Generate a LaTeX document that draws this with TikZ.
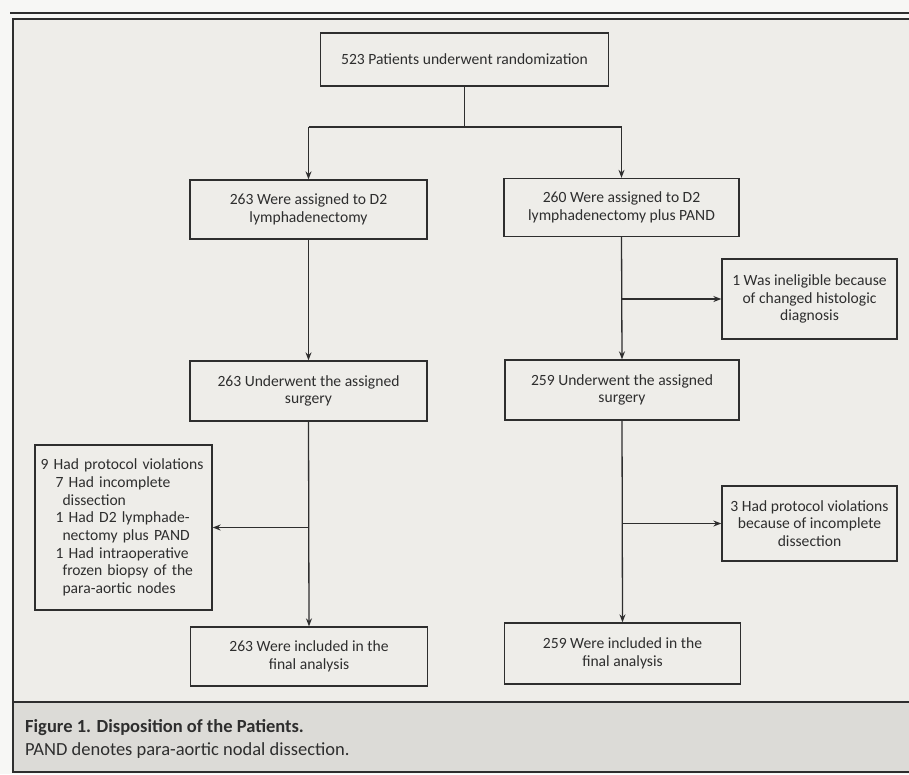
\documentclass[tikz,border=0pt]{standalone}
\usepackage{fontspec}
\setmainfont{Carlito}
\usetikzlibrary{arrows.meta}
\definecolor{paper}{HTML}{EEEDE9}
\definecolor{capbg}{HTML}{DCDBD7}
\definecolor{ink}{HTML}{2E2E2E}
\tikzset{
  box/.style={draw=ink, line width=1.3pt, fill=paper, align=center, inner sep=4pt,
    font=\fontsize{15.6}{17.7}\selectfont, text=ink},
  conn/.style={draw=ink, line width=1.3pt},
  arr/.style={conn, -{Stealth[length=8pt,width=6pt]}},
}
\begin{document}
\begin{tikzpicture}[x=1pt,y=-1pt]
\useasboundingbox (0,0) rectangle (909,774);
\fill[white!55!paper] (0,0) rectangle (909,774);
\fill[paper] (13,19) rectangle (909,702);
\fill[capbg] (13,702) rectangle (909,772);
\draw[ink, line width=1.8pt] (10,13) -- (909,13);
\draw[ink, line width=1.2pt] (909,19) -- (13,19) -- (13,772) -- (909,772);
\draw[ink, line width=1.4pt] (13,702) -- (909,702);

\node[box, minimum width=288pt, minimum height=53pt] (top) at (464.5,59.5) {523 Patients underwent randomization};
\node[box, minimum width=237pt, minimum height=59pt] (L2) at (308.5,209.5) {263 Were assigned to D2\\lymphadenectomy};
\node[box, minimum width=235pt, minimum height=58pt] (R2) at (621.5,207.5) {260 Were assigned to D2\\lymphadenectomy plus PAND};
\node[box, minimum width=175pt, minimum height=80pt] (inel) at (809.5,299) {1 Was ineligible because\\of changed histologic\\diagnosis};
\node[box, minimum width=237pt, minimum height=60pt] (L3) at (308.5,391) {263 Underwent the assigned\\surgery};
\node[box, minimum width=234pt, minimum height=60pt] (R3) at (622,390) {259 Underwent the assigned\\surgery};
\node[box, align=left, text width=166pt, inner xsep=5.5pt, minimum height=165pt] (Lv) at (123.5,527.5)
  {9 Had protocol violations\\
   \hspace*{15pt}7 Had incomplete\\
   \hspace*{22pt}dissection\\
   \hspace*{15pt}1 Had D2 lymphade-\\
   \hspace*{22pt}nectomy plus PAND\\
   \hspace*{15pt}1 Had intraoperative\\
   \hspace*{22pt}frozen biopsy of the\\
   \hspace*{22pt}para-aortic nodes};
\node[box, minimum width=175pt, minimum height=75pt] (Rv) at (809.5,523.5) {3 Had protocol violations\\because of incomplete\\dissection};
\node[box, minimum width=237pt, minimum height=59pt] (L4) at (309,656.5) {263 Were included in the\\final analysis};
\node[box, minimum width=236pt, minimum height=61pt] (R4) at (622.5,653.5) {259 Were included in the\\final analysis};

\coordinate (split) at (464.5,127);
\coordinate (sL) at (L2.north |- split);
\coordinate (sR) at (R2.north |- split);
\draw[conn] (top.south) -- (split);
\draw[conn] (sL) -- (sR);
\draw[arr] (sL) -- (L2.north);
\draw[arr] (sR) -- (R2.north);

\draw[arr] (L2.south) -- (L3.north);
\draw[arr] (R2.south) -- (R3.north);
\coordinate (bI) at (R2.south |- inel.west);
\draw[arr] (bI) -- (inel.west);

\draw[arr] (L3.south) -- (L4.north);
\coordinate (bLv) at (L3.south |- Lv.east);
\draw[arr] (bLv) -- (Lv.east);

\draw[arr] (R3.south) -- (R4.north);
\coordinate (bRv) at (R3.south |- Rv.west);
\draw[arr] (bRv) -- (Rv.west);

\node[anchor=west, font=\fontsize{18.5}{21}\selectfont\bfseries, text=ink, inner sep=0pt] (cap1) at (25,728) {Figure 1. Disposition of the Patients.};
\node[anchor=west, font=\fontsize{18.5}{21}\selectfont, text=ink, inner sep=0pt] (cap2) at (25,751) {PAND denotes para-aortic nodal dissection.};
\end{tikzpicture}
\end{document}
